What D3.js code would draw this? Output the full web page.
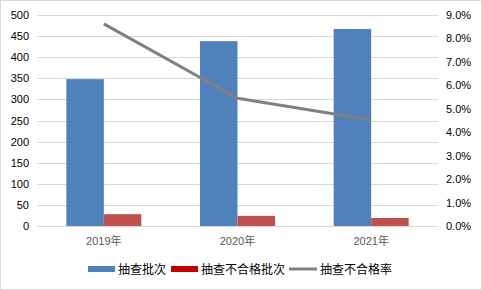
<!DOCTYPE html>
<html><head><meta charset="utf-8">
<script src="https://cdn.jsdelivr.net/npm/d3@7"></script>
<style>body{margin:0;background:#fff;}svg{display:block;}</style>
</head><body>
<script>
const categories = ["2019年", "2020年", "2021年"];
const batches = [348, 438, 467];
const failedBatches = [28, 24, 19];
const failRate = [0.0862, 0.0545, 0.0452];
const leftTicks = [0, 50, 100, 150, 200, 250, 300, 350, 400, 450, 500];
const rightTicks = [0, 0.01, 0.02, 0.03, 0.04, 0.05, 0.06, 0.07, 0.08, 0.09];
const seriesNames = ["抽查批次", "抽查不合格批次", "抽查不合格率"];

const W = 482, H = 290;
const svg = d3.select("body").append("svg").attr("width", W).attr("height", H);
svg.append("rect").attr("x", 0.5).attr("y", 0.5).attr("width", W - 1).attr("height", H - 1)
  .attr("fill", "#fff").attr("stroke", "#d9d9d9");

const plot = {l: 37, r: 438, t: 15, b: 226};
const x = d3.scaleBand().domain(categories).range([plot.l, plot.r]);
const yL = d3.scaleLinear().domain([0, 500]).range([plot.b, plot.t]);
const yR = d3.scaleLinear().domain([0, 0.09]).range([plot.b, plot.t]);

const font = "'Liberation Sans', Arial, sans-serif";
const cjk = "'Noto Sans CJK SC', sans-serif";

// gridlines
svg.append("g").selectAll("line").data(leftTicks).join("line")
  .attr("x1", plot.l).attr("x2", plot.r)
  .attr("y1", d => Math.round(yL(d)) + 0.5).attr("y2", d => Math.round(yL(d)) + 0.5)
  .attr("stroke", "#d9d9d9").attr("stroke-width", 1);

// left axis
const axL = svg.append("g").attr("transform", `translate(${plot.l},0)`)
  .call(d3.axisLeft(yL).tickValues(leftTicks).tickSize(0).tickPadding(8));
axL.select(".domain").remove();
axL.selectAll("text").attr("font-family", font).attr("font-size", 11).attr("fill", "#000");

// right axis
const axR = svg.append("g").attr("transform", `translate(${plot.r},0)`)
  .call(d3.axisRight(yR).tickValues(rightTicks).tickFormat(d3.format(".1%")).tickSize(0).tickPadding(8));
axR.select(".domain").remove();
axR.selectAll("text").attr("font-family", font).attr("font-size", 11).attr("fill", "#000");

// bars
const bw = 37.5;
svg.append("g").selectAll("rect").data(categories).join("rect")
  .attr("x", d => x(d) + x.bandwidth() / 2 - bw)
  .attr("width", bw)
  .attr("y", (d, i) => yL(batches[i]))
  .attr("height", (d, i) => yL(0) - yL(batches[i]))
  .attr("fill", "#4F81BD");
svg.append("g").selectAll("rect").data(categories).join("rect")
  .attr("x", d => x(d) + x.bandwidth() / 2)
  .attr("width", bw)
  .attr("y", (d, i) => yL(failedBatches[i]))
  .attr("height", (d, i) => yL(0) - yL(failedBatches[i]))
  .attr("fill", "#C0504D");

// line
const line = d3.line().x((d, i) => x(categories[i]) + x.bandwidth() / 2).y(d => yR(d));
svg.append("path").datum(failRate).attr("d", line)
  .attr("fill", "none").attr("stroke", "#808080").attr("stroke-width", 3).attr("stroke-linejoin", "round");

// x labels
svg.append("g").selectAll("text").data(categories).join("text")
  .attr("x", d => x(d) + x.bandwidth() / 2).attr("y", 245)
  .attr("text-anchor", "middle").attr("font-size", 11).attr("fill", "#595959")
  .each(function(d) {
    const t = d3.select(this);
    t.append("tspan").attr("font-family", font).text(d.slice(0, 4));
    t.append("tspan").attr("font-family", cjk).text(d.slice(4));
  });

// legend
const lg = svg.append("g").attr("font-family", cjk).attr("font-size", 12).attr("fill", "#000");
const ly = 269;
lg.append("rect").attr("x", 88).attr("y", ly - 3).attr("width", 27).attr("height", 6).attr("fill", "#4F81BD");
lg.append("text").attr("x", 118).attr("y", ly + 4.5).text(seriesNames[0]);
lg.append("rect").attr("x", 171).attr("y", ly - 3).attr("width", 27).attr("height", 6).attr("fill", "#C00000");
lg.append("text").attr("x", 201).attr("y", ly + 4.5).text(seriesNames[1]);
lg.append("line").attr("x1", 289).attr("x2", 317).attr("y1", ly).attr("y2", ly).attr("stroke", "#808080").attr("stroke-width", 3);
lg.append("text").attr("x", 320).attr("y", ly + 4.5).text(seriesNames[2]);
</script>
</body></html>
